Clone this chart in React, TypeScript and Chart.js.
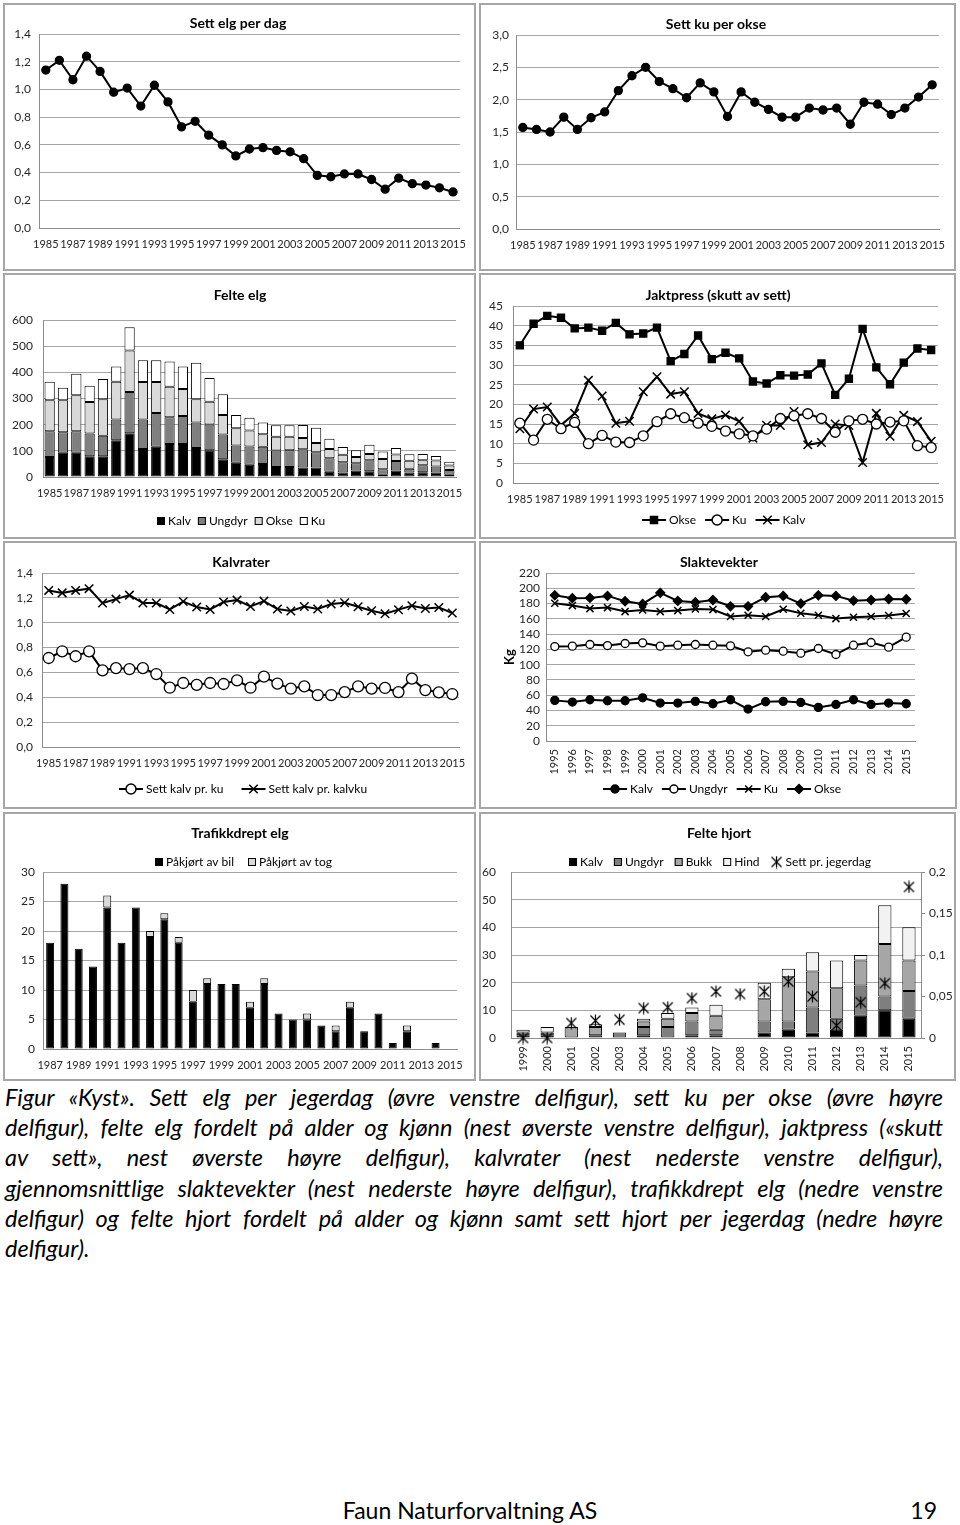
import React, { useEffect, useRef } from 'react';
import { Chart, registerables } from 'chart.js';
import { drawPoint } from 'chart.js/helpers';

Chart.register(...registerables);

const FONT = 'Lato, "Open Sans", "DejaVu Sans", sans-serif';
Chart.defaults.font.family = FONT;
Chart.defaults.font.size = 11;
Chart.defaults.color = '#262626';

const GRID = '#a6a6a6';
const AXIS = '#8c8c8c';

// ---------- data ----------
const yearsElg = ['1985', '1986', '1987', '1988', '1989', '1990', '1991', '1992', '1993', '1994', '1995', '1996', '1997', '1998', '1999', '2000', '2001', '2002', '2003', '2004', '2005', '2006', '2007', '2008', '2009', '2010', '2011', '2012', '2013', '2014', '2015'];

const settElgPerDag = [1.14, 1.21, 1.07, 1.24, 1.13, 0.98, 1.01, 0.88, 1.03, 0.91, 0.73, 0.77, 0.67, 0.60, 0.52, 0.57, 0.58, 0.56, 0.55, 0.50, 0.38, 0.37, 0.39, 0.39, 0.35, 0.28, 0.36, 0.32, 0.31, 0.29, 0.26];

const settKuPerOkse = [1.57, 1.54, 1.50, 1.73, 1.54, 1.72, 1.81, 2.14, 2.37, 2.50, 2.28, 2.17, 2.03, 2.26, 2.12, 1.74, 2.12, 1.96, 1.85, 1.73, 1.73, 1.87, 1.84, 1.87, 1.62, 1.96, 1.93, 1.77, 1.87, 2.04, 2.23];

const felteKalv = [76, 93, 93, 79, 79, 140, 167, 107, 116, 126, 126, 111, 102, 68, 54, 47, 50, 38, 38, 36, 36, 20, 17, 25, 22, 9, 25, 17, 18, 17, 9];
const felteUngdyr = [99, 78, 82, 87, 79, 80, 158, 113, 129, 102, 107, 97, 99, 94, 66, 70, 66, 63, 64, 70, 59, 52, 39, 28, 42, 21, 36, 15, 27, 23, 18];
const felteOkse = [118, 122, 137, 121, 139, 144, 158, 143, 118, 117, 103, 89, 87, 75, 66, 61, 47, 53, 52, 43, 35, 35, 29, 23, 24, 39, 25, 30, 19, 23, 17];
const felteKu = [71, 48, 83, 62, 78, 58, 89, 83, 83, 96, 86, 140, 90, 79, 51, 48, 45, 44, 44, 50, 58, 39, 30, 26, 35, 28, 25, 25, 24, 17, 14];

const jaktOkse = [35.0, 40.5, 42.5, 42.0, 39.3, 39.5, 38.7, 40.7, 37.8, 38.0, 39.5, 31.0, 32.8, 37.5, 31.5, 33.1, 31.7, 25.8, 25.3, 27.4, 27.3, 27.6, 30.4, 22.4, 26.5, 39.2, 29.4, 25.1, 30.6, 34.2, 33.8];
const jaktKu = [15.2, 10.9, 16.2, 13.8, 15.4, 10.0, 12.1, 10.4, 10.3, 12.0, 15.6, 17.6, 16.6, 15.2, 14.4, 13.2, 12.5, 12.0, 13.7, 16.4, 17.1, 17.6, 16.4, 12.9, 15.8, 16.2, 15.0, 15.5, 15.8, 9.5, 9.0];
const jaktKalv = [13.8, 18.8, 19.3, 14.7, 17.7, 26.1, 22.1, 15.2, 15.7, 23.2, 27.0, 22.6, 23.2, 17.7, 16.3, 17.3, 15.7, 11.4, 14.7, 14.6, 18.2, 9.7, 10.3, 15.0, 14.6, 5.2, 17.7, 11.9, 17.2, 15.6, 10.6];

const kalvPrKu = [0.716, 0.77, 0.73, 0.77, 0.617, 0.635, 0.627, 0.635, 0.587, 0.477, 0.515, 0.50, 0.515, 0.507, 0.536, 0.477, 0.566, 0.51, 0.47, 0.488, 0.418, 0.418, 0.442, 0.488, 0.47, 0.475, 0.442, 0.55, 0.458, 0.44, 0.426];
const kalvPrKalvku = [1.26, 1.24, 1.26, 1.274, 1.158, 1.19, 1.222, 1.158, 1.158, 1.107, 1.17, 1.126, 1.107, 1.166, 1.182, 1.131, 1.174, 1.11, 1.094, 1.131, 1.11, 1.15, 1.161, 1.129, 1.097, 1.072, 1.105, 1.137, 1.115, 1.123, 1.078];

const yearsSlakt = ['1995', '1996', '1997', '1998', '1999', '2000', '2001', '2002', '2003', '2004', '2005', '2006', '2007', '2008', '2009', '2010', '2011', '2012', '2013', '2014', '2015'];
const slaktKalv = [53.2, 51.0, 54.0, 52.7, 52.7, 56.6, 49.7, 49.7, 51.9, 48.8, 54.0, 41.8, 51.4, 51.9, 50.5, 44.0, 47.9, 54.0, 47.9, 49.7, 48.8];
const slaktUngdyr = [123.7, 124.2, 126.4, 125.0, 127.7, 128.5, 124.2, 125.5, 126.4, 125.5, 124.6, 116.8, 119.0, 117.6, 115.0, 121.1, 113.3, 125.5, 129.0, 122.9, 136.0];
const slaktKu = [180.4, 177.3, 173.4, 174.7, 169.5, 171.7, 169.5, 170.8, 173.0, 172.1, 163.0, 164.7, 163.0, 172.5, 167.3, 164.7, 160.3, 162.0, 163.0, 164.3, 166.9];
const slaktOkse = [190.8, 187.0, 187.4, 190.0, 183.0, 179.5, 194.0, 183.4, 181.7, 184.7, 176.4, 176.4, 188.2, 190.0, 180.0, 190.8, 190.0, 183.8, 184.7, 186.0, 185.6];

const yearsTrafikk = ['1987', '1988', '1989', '1990', '1991', '1992', '1993', '1994', '1995', '1996', '1997', '1998', '1999', '2000', '2001', '2002', '2003', '2004', '2005', '2006', '2007', '2008', '2009', '2010', '2011', '2012', '2013', '2014', '2015'];
const trafikkBil = [18, 28, 17, 14, 24, 18, 24, 19, 22, 18, 8, 11, 11, 11, 7, 11, 6, 5, 5, 4, 3, 7, 3, 6, 1, 3, 0, 1, 0];
const trafikkTog = [0, 0, 0, 0, 2, 0, 0, 1, 1, 1, 2, 1, 0, 0, 1, 1, 0, 0, 1, 0, 1, 1, 0, 0, 0, 1, 0, 0, 0];

const yearsHjort = ['1999', '2000', '2001', '2002', '2003', '2004', '2005', '2006', '2007', '2008', '2009', '2010', '2011', '2012', '2013', '2014', '2015'];
const hjortKalv = [1, 1, 0, 0, 0, 1, 0, 1, 1, 0, 2, 3, 2, 3, 8, 10, 7];
const hjortUngdyr = [1, 1, 0, 1, 2, 3, 4, 5, 2, 0, 4, 3, 9, 4, 11, 5, 10];
const hjortBukk = [0, 0, 4, 3, 0, 2, 3, 3, 5, 0, 8, 16, 13, 11, 9, 19, 11];
const hjortHind = [1, 2, 0, 1, 0, 1, 2, 2, 4, 0, 6, 3, 7, 10, 2, 14, 12];
const hjortSettPrJegerdag = [0, 0, 0.018, 0.021, 0.022, 0.036, 0.037, 0.048, 0.056, 0.053, 0.056, 0.068, 0.05, 0.015, 0.043, 0.066, 0.182];

const captionLines = [
  'Figur «Kyst». Sett elg per jegerdag (øvre venstre delfigur), sett ku per okse (øvre høyre',
  'delfigur), felte elg fordelt på alder og kjønn (nest øverste venstre delfigur), jaktpress («skutt',
  'av sett», nest øverste høyre delfigur), kalvrater (nest nederste venstre delfigur),',
  'gjennomsnittlige slaktevekter (nest nederste høyre delfigur), trafikkdrept elg (nedre venstre',
  'delfigur) og felte hjort fordelt på alder og kjønn samt sett hjort per jegerdag (nedre høyre',
  'delfigur).',
];

// ---------- helpers ----------
const comma1 = (v: any) => Number(v).toFixed(1).replace('.', ',');
const plain = (v: any) => String(Math.round(Number(v)));
const commaR = (v: any) => {
  const r = Math.round(Number(v) * 100) / 100;
  return r === 0 ? '0' : String(r).replace('.', ',');
};

function yAxis(o: { min: number; max: number; step: number; fmt: (v: any) => string; width: number; pad: number; stacked?: boolean; title?: string }) {
  return {
    position: 'left',
    stacked: !!o.stacked,
    min: o.min,
    max: o.max,
    ticks: { stepSize: o.step, autoSkip: false, callback: o.fmt, padding: o.pad, font: { size: 12 }, color: '#262626' },
    grid: { color: GRID, lineWidth: 1, drawTicks: false },
    border: { display: true, color: AXIS, width: 1 },
    title: o.title
      ? { display: true, text: o.title, font: { size: 13, weight: 'bold' }, color: '#000', padding: { top: 0, bottom: 0 } }
      : { display: false },
    afterFit: (s: any) => {
      s.width = o.width;
    },
  };
}

function xAxis(o: { labels: string[]; height: number; every: number; pad: number; rotate?: boolean; stacked?: boolean }) {
  return {
    type: 'category',
    stacked: !!o.stacked,
    offset: true,
    ticks: {
      autoSkip: false,
      maxRotation: o.rotate ? 90 : 0,
      minRotation: o.rotate ? 90 : 0,
      padding: o.pad,
      font: { size: 11 },
      color: '#262626',
      callback: (_v: any, i: number) => (i % o.every === 0 ? o.labels[i] : ''),
    },
    grid: { drawOnChartArea: false, drawTicks: false },
    border: { display: true, color: AXIS, width: 1 },
    afterFit: (s: any) => {
      s.height = o.height;
    },
  };
}

type LegItem = { label: string; kind: 'box' | 'line' | 'marker'; fill?: string; pointStyle?: any; radius?: number; ptFill?: string };

function deco(cfg: { title: { text: string; x: number; y: number }; legend?: { x: number; y: number; gap: number; items: LegItem[] } }) {
  return {
    id: 'deco',
    afterDraw(chart: any) {
      const ctx = chart.ctx as CanvasRenderingContext2D;
      ctx.save();
      ctx.fillStyle = '#000';
      ctx.font = `bold 14px ${FONT}`;
      ctx.textAlign = 'center';
      ctx.textBaseline = 'middle';
      ctx.fillText(cfg.title.text, cfg.title.x, cfg.title.y);
      if (cfg.legend) {
        const L = cfg.legend;
        ctx.font = `12px ${FONT}`;
        const symW = (it: LegItem) => (it.kind === 'box' ? 8 : it.kind === 'line' ? 24 : 12);
        const widths = L.items.map((it) => symW(it) + 3 + ctx.measureText(it.label).width);
        const total = widths.reduce((a, b) => a + b, 0) + L.gap * (L.items.length - 1);
        let x = Math.round(L.x - total / 2);
        const y = L.y;
        L.items.forEach((it) => {
          if (it.kind === 'box') {
            ctx.fillStyle = it.fill || '#fff';
            ctx.fillRect(x, y - 4, 8, 8);
            ctx.strokeStyle = '#000';
            ctx.lineWidth = 1;
            ctx.strokeRect(x + 0.5, y - 3.5, 7, 7);
          } else {
            if (it.kind === 'line') {
              ctx.strokeStyle = '#000';
              ctx.lineWidth = 2;
              ctx.beginPath();
              ctx.moveTo(x, y);
              ctx.lineTo(x + 24, y);
              ctx.stroke();
            }
            ctx.fillStyle = it.ptFill || '#000';
            ctx.strokeStyle = '#000';
            ctx.lineWidth = 1.5;
            drawPoint(ctx, { pointStyle: it.pointStyle, radius: it.radius || 4, borderWidth: 1.5, rotation: 0 } as any, x + symW(it) / 2, y);
          }
          x += symW(it) + 3;
          ctx.fillStyle = '#000';
          ctx.textAlign = 'left';
          ctx.textBaseline = 'middle';
          ctx.font = `12px ${FONT}`;
          ctx.fillText(it.label, x, y);
          x += ctx.measureText(it.label).width + L.gap;
        });
      }
      ctx.restore();
    },
  };
}

function makeAsterisk(): HTMLCanvasElement {
  const s = 13;
  const c = document.createElement('canvas');
  c.width = s;
  c.height = s;
  const g = c.getContext('2d')!;
  g.strokeStyle = '#000';
  g.lineWidth = 1.2;
  g.beginPath();
  g.moveTo(s / 2, 0.5);
  g.lineTo(s / 2, s - 0.5);
  g.moveTo(1.5, 1.5);
  g.lineTo(s - 1.5, s - 1.5);
  g.moveTo(s - 1.5, 1.5);
  g.lineTo(1.5, s - 1.5);
  g.stroke();
  return c;
}

const baseOpts = (padding: any) => ({
  responsive: false,
  maintainAspectRatio: false,
  animation: false,
  events: [],
  layout: { padding },
  plugins: { legend: { display: false }, title: { display: false }, tooltip: { enabled: false } },
});

const lineDs = (label: string, data: number[], style: string, radius: number, fill: string, extra: any = {}) => ({
  label,
  data,
  borderColor: '#000',
  borderWidth: 2,
  tension: 0,
  pointStyle: style,
  pointRadius: radius,
  pointBackgroundColor: fill,
  pointBorderColor: '#000',
  pointBorderWidth: 1.3,
  clip: false,
  ...extra,
});

const barDs = (label: string, data: number[], color: string, pct: number) => ({
  label,
  data,
  backgroundColor: color,
  borderColor: '#000',
  borderWidth: 1,
  borderSkipped: false,
  barPercentage: pct,
  categoryPercentage: 1,
});

// ---------- chart configs ----------
const cfgSettElg = () => ({
  type: 'line',
  data: { labels: yearsElg, datasets: [lineDs('Sett elg per dag', settElgPerDag, 'circle', 4, '#000')] },
  options: {
    ...baseOpts({ left: 0, top: 31, right: 14, bottom: 0 }),
    scales: {
      x: xAxis({ labels: yearsElg, height: 43, every: 2, pad: 10 }),
      y: yAxis({ min: 0, max: 1.4, step: 0.2, fmt: comma1, width: 36, pad: 8 }),
    },
  },
  plugins: [deco({ title: { text: 'Sett elg per dag', x: 235, y: 20 } })],
});

const cfgSettKu = () => ({
  type: 'line',
  data: { labels: yearsElg, datasets: [lineDs('Sett ku per okse', settKuPerOkse, 'circle', 4, '#000')] },
  options: {
    ...baseOpts({ left: 0, top: 32, right: 17, bottom: 0 }),
    scales: {
      x: xAxis({ labels: yearsElg, height: 42, every: 2, pad: 10 }),
      y: yAxis({ min: 0, max: 3, step: 0.5, fmt: comma1, width: 37, pad: 7 }),
    },
  },
  plugins: [deco({ title: { text: 'Sett ku per okse', x: 237, y: 21 } })],
});

const cfgFelteElg = () => ({
  type: 'bar',
  data: {
    labels: yearsElg,
    datasets: [
      barDs('Kalv', felteKalv, '#000000', 0.77),
      barDs('Ungdyr', felteUngdyr, '#7f7f7f', 0.77),
      barDs('Okse', felteOkse, '#d9d9d9', 0.77),
      barDs('Ku', felteKu, '#ffffff', 0.77),
    ],
  },
  options: {
    ...baseOpts({ left: 0, top: 47, right: 20, bottom: 0 }),
    scales: {
      x: xAxis({ labels: yearsElg, height: 62, every: 2, pad: 10, stacked: true }),
      y: yAxis({ min: 0, max: 600, step: 100, fmt: plain, width: 40, pad: 10, stacked: true }),
    },
  },
  plugins: [
    deco({
      title: { text: 'Felte elg', x: 237, y: 22 },
      legend: {
        x: 238,
        y: 248,
        gap: 7,
        items: [
          { label: 'Kalv', kind: 'box', fill: '#000000' },
          { label: 'Ungdyr', kind: 'box', fill: '#7f7f7f' },
          { label: 'Okse', kind: 'box', fill: '#d9d9d9' },
          { label: 'Ku', kind: 'box', fill: '#ffffff' },
        ],
      },
    }),
  ],
});

const cfgJakt = () => ({
  type: 'line',
  data: {
    labels: yearsElg,
    datasets: [
      lineDs('Okse', jaktOkse, 'rect', 5, '#000'),
      lineDs('Ku', jaktKu, 'circle', 5, '#fff'),
      lineDs('Kalv', jaktKalv, 'crossRot', 6, '#000', { pointBorderWidth: 1.5 }),
    ],
  },
  options: {
    ...baseOpts({ left: 0, top: 33, right: 18, bottom: 0 }),
    scales: {
      x: xAxis({ labels: yearsElg, height: 56, every: 2, pad: 10 }),
      y: yAxis({ min: 0, max: 45, step: 5, fmt: plain, width: 34, pad: 10 }),
    },
  },
  plugins: [
    deco({
      title: { text: 'Jaktpress (skutt av sett)', x: 239, y: 22 },
      legend: {
        x: 245,
        y: 247,
        gap: 9,
        items: [
          { label: 'Okse', kind: 'line', pointStyle: 'rect', radius: 5, ptFill: '#000' },
          { label: 'Ku', kind: 'line', pointStyle: 'circle', radius: 5, ptFill: '#fff' },
          { label: 'Kalv', kind: 'line', pointStyle: 'crossRot', radius: 6, ptFill: '#000' },
        ],
      },
    }),
  ],
});

const cfgKalvrater = () => ({
  type: 'line',
  data: {
    labels: yearsElg,
    datasets: [
      lineDs('Sett kalv pr. ku', kalvPrKu, 'circle', 5.5, '#fff'),
      lineDs('Sett kalv pr. kalvku', kalvPrKalvku, 'crossRot', 6, '#000', { pointBorderWidth: 1.5 }),
    ],
  },
  options: {
    ...baseOpts({ left: 0, top: 32, right: 17, bottom: 0 }),
    scales: {
      x: xAxis({ labels: yearsElg, height: 62, every: 2, pad: 10 }),
      y: yAxis({ min: 0, max: 1.4, step: 0.2, fmt: comma1, width: 39, pad: 9 }),
    },
  },
  plugins: [
    deco({
      title: { text: 'Kalvrater', x: 238, y: 21 },
      legend: {
        x: 240,
        y: 248,
        gap: 18,
        items: [
          { label: 'Sett kalv pr. ku', kind: 'line', pointStyle: 'circle', radius: 5, ptFill: '#fff' },
          { label: 'Sett kalv pr. kalvku', kind: 'line', pointStyle: 'crossRot', radius: 6, ptFill: '#000' },
        ],
      },
    }),
  ],
});

const cfgSlakt = () => ({
  type: 'line',
  data: {
    labels: yearsSlakt,
    datasets: [
      lineDs('Kalv', slaktKalv, 'circle', 4, '#000'),
      lineDs('Ungdyr', slaktUngdyr, 'circle', 4, '#fff'),
      lineDs('Ku', slaktKu, 'crossRot', 5, '#000', { pointBorderWidth: 1.5 }),
      lineDs('Okse', slaktOkse, 'rectRot', 4.5, '#000'),
    ],
  },
  options: {
    ...baseOpts({ left: 23, top: 32, right: 42, bottom: 0 }),
    scales: {
      x: xAxis({ labels: yearsSlakt, height: 68, every: 1, pad: 8, rotate: true }),
      y: yAxis({ min: 0, max: 220, step: 20, fmt: plain, width: 44, pad: 6, title: 'Kg' }),
    },
  },
  plugins: [
    deco({
      title: { text: 'Slaktevekter', x: 240, y: 21 },
      legend: {
        x: 243,
        y: 248,
        gap: 9,
        items: [
          { label: 'Kalv', kind: 'line', pointStyle: 'circle', radius: 4, ptFill: '#000' },
          { label: 'Ungdyr', kind: 'line', pointStyle: 'circle', radius: 4, ptFill: '#fff' },
          { label: 'Ku', kind: 'line', pointStyle: 'crossRot', radius: 5, ptFill: '#000' },
          { label: 'Okse', kind: 'line', pointStyle: 'rectRot', radius: 4.5, ptFill: '#000' },
        ],
      },
    }),
  ],
});

const cfgTrafikk = () => ({
  type: 'bar',
  data: {
    labels: yearsTrafikk,
    datasets: [barDs('Påkjørt av bil', trafikkBil, '#000000', 0.56), barDs('Påkjørt av tog', trafikkTog, '#d9d9d9', 0.56)],
  },
  options: {
    ...baseOpts({ left: 0, top: 60, right: 19, bottom: 0 }),
    scales: {
      x: xAxis({ labels: yearsTrafikk, height: 32, every: 2, pad: 10, stacked: true }),
      y: yAxis({ min: 0, max: 30, step: 5, fmt: plain, width: 40, pad: 8, stacked: true }),
    },
  },
  plugins: [
    deco({
      title: { text: 'Trafikkdrept elg', x: 237, y: 21 },
      legend: {
        x: 240,
        y: 50,
        gap: 14,
        items: [
          { label: 'Påkjørt av bil', kind: 'box', fill: '#000000' },
          { label: 'Påkjørt av tog', kind: 'box', fill: '#d9d9d9' },
        ],
      },
    }),
  ],
});

const cfgHjort = () => {
  const ast = makeAsterisk();
  return {
    type: 'bar',
    data: {
      labels: yearsHjort,
      datasets: [
        barDs('Kalv', hjortKalv, '#000000', 0.55),
        barDs('Ungdyr', hjortUngdyr, '#7f7f7f', 0.55),
        barDs('Bukk', hjortBukk, '#a6a6a6', 0.55),
        barDs('Hind', hjortHind, '#f2f2f2', 0.55),
        {
          type: 'line',
          label: 'Sett pr. jegerdag',
          data: hjortSettPrJegerdag,
          yAxisID: 'y1',
          stack: 'sett',
          showLine: false,
          pointStyle: ast,
          pointRadius: 6,
          borderColor: '#000',
          backgroundColor: '#000',
          order: -1,
          clip: false,
        },
      ],
    },
    options: {
      ...baseOpts({ left: 0, top: 60, right: 0, bottom: 0 }),
      scales: {
        x: xAxis({ labels: yearsHjort, height: 43, every: 1, pad: 8, rotate: true, stacked: true }),
        y: yAxis({ min: 0, max: 60, step: 10, fmt: plain, width: 32, pad: 15, stacked: true }),
        y1: {
          position: 'right',
          min: 0,
          max: 0.2,
          ticks: { stepSize: 0.05, autoSkip: false, callback: commaR, padding: 4, font: { size: 12 }, color: '#262626' },
          grid: { drawOnChartArea: false, drawTicks: true, tickLength: 4, color: AXIS },
          border: { display: true, color: AXIS, width: 1 },
          afterFit: (s: any) => {
            s.width = 35;
          },
        },
      },
    },
    plugins: [
      deco({
        title: { text: 'Felte hjort', x: 240, y: 21 },
        legend: {
          x: 241,
          y: 50,
          gap: 11,
          items: [
            { label: 'Kalv', kind: 'box', fill: '#000000' },
            { label: 'Ungdyr', kind: 'box', fill: '#7f7f7f' },
            { label: 'Bukk', kind: 'box', fill: '#a6a6a6' },
            { label: 'Hind', kind: 'box', fill: '#f2f2f2' },
            { label: 'Sett pr. jegerdag', kind: 'marker', pointStyle: ast, radius: 6 },
          ],
        },
      }),
    ],
  };
};

// ---------- components ----------
function Panel(props: { x: number; y: number; w: number; h: number; make: () => any }) {
  const ref = useRef<HTMLCanvasElement>(null);
  useEffect(() => {
    const chart = new Chart(ref.current as HTMLCanvasElement, props.make());
    return () => chart.destroy();
  }, []);
  const { x, y, w, h } = props;
  return (
    <div
      style={{
        position: 'absolute',
        left: x,
        top: y,
        width: w,
        height: h,
        border: '2px solid #a6a6a6',
        boxSizing: 'border-box',
        background: '#fff',
      }}
    >
      <canvas ref={ref} width={w} height={h} style={{ position: 'absolute', left: -2, top: -2, width: w, height: h }} />
    </div>
  );
}

export default function App() {
  return (
    <div style={{ position: 'absolute', left: 0, top: 0, width: 960, height: 1525, background: '#fff', overflow: 'hidden' }}>
      <Panel x={3} y={3} w={473} h={268} make={cfgSettElg} />
      <Panel x={479} y={3} w={477} h={268} make={cfgSettKu} />
      <Panel x={3} y={273} w={473} h={266} make={cfgFelteElg} />
      <Panel x={479} y={273} w={477} h={266} make={cfgJakt} />
      <Panel x={3} y={541} w={473} h={268} make={cfgKalvrater} />
      <Panel x={479} y={541} w={478} h={268} make={cfgSlakt} />
      <Panel x={3} y={812} w={473} h={269} make={cfgTrafikk} />
      <Panel x={479} y={812} w={477} h={269} make={cfgHjort} />
      {captionLines.map((t, i) => (
        <div
          key={i}
          style={{
            position: 'absolute',
            left: 5,
            top: 1082 + i * 30.2,
            width: 938,
            height: 30,
            lineHeight: '30px',
            fontFamily: FONT,
            fontStyle: 'italic',
            fontSize: 23.5,
            color: '#000',
            textAlign: 'justify',
            textAlignLast: i < captionLines.length - 1 ? 'justify' : 'left',
            whiteSpace: 'normal',
          }}
        >
          {t}
        </div>
      ))}
      <div
        style={{
          position: 'absolute',
          left: 270,
          top: 1496,
          width: 400,
          height: 28,
          lineHeight: '28px',
          textAlign: 'center',
          fontFamily: FONT,
          fontSize: 23,
          color: '#000',
        }}
      >
        Faun Naturforvaltning AS
      </div>
      <div
        style={{
          position: 'absolute',
          left: 880,
          top: 1496,
          width: 57,
          height: 28,
          lineHeight: '28px',
          textAlign: 'right',
          fontFamily: FONT,
          fontSize: 23,
          color: '#000',
        }}
      >
        19
      </div>
    </div>
  );
}
